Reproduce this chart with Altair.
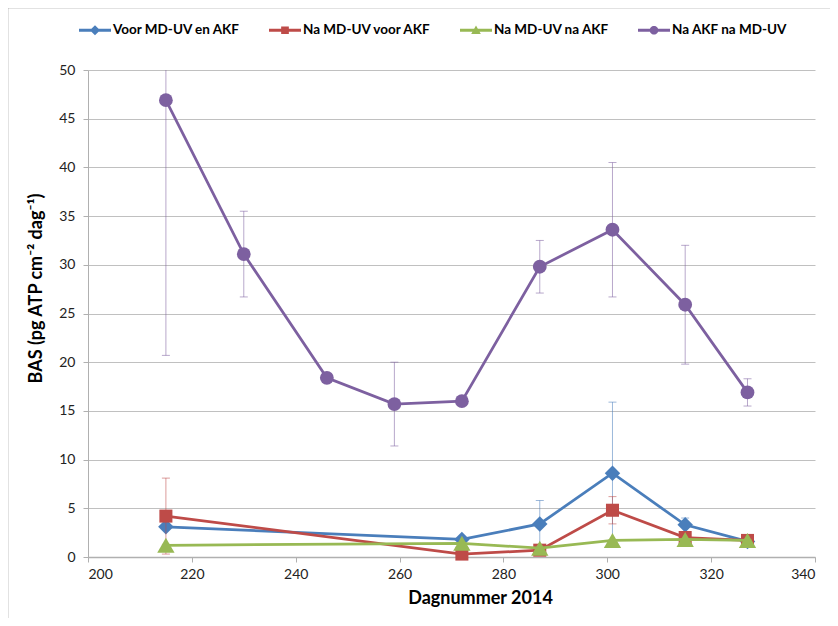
import math
import altair as alt
import pandas as pd

# ---------------- data ----------------
series_names = ["Voor MD-UV en AKF", "Na MD-UV voor AKF", "Na MD-UV na AKF", "Na AKF na MD-UV"]
series_colors = ["#4a7ebb", "#be4b48", "#98b954", "#7d60a0"]
series_shapes = ["diamond", "square", "triangle-up", "circle"]
series_sizes = [240, 170, 300, 190]

days_short = [215, 272, 287, 301, 315, 327]
days_long = [215, 230, 246, 259, 272, 287, 301, 315, 327]

blue_vals = [3.1, 1.8, 3.4, 8.6, 3.3, 1.6]
blue_err = [0.2, 0.2, 2.4, 7.3, 0.7, 0.2]
red_vals = [4.2, 0.3, 0.7, 4.8, 2.0, 1.7]
red_err = [3.9, 0.2, 0.3, 1.4, 0.5, 0.2]
green_vals = [1.2, 1.4, 0.9, 1.7, 1.8, 1.7]
green_err = [0.1, 0.1, 0.1, 0.1, 0.1, 0.1]
purple_vals = [46.9, 31.1, 18.4, 15.7, 16.0, 29.8, 33.6, 25.9, 16.9]
purple_err = [26.2, 4.4, 0.4, 4.3, 0.4, 2.7, 6.9, 6.1, 1.4]

x_ticks = [200, 220, 240, 260, 280, 300, 320, 340]
y_ticks = [0, 5, 10, 15, 20, 25, 30, 35, 40, 45, 50]

all_days = [days_short, days_short, days_short, days_long]
all_vals = [blue_vals, red_vals, green_vals, purple_vals]
all_errs = [blue_err, red_err, green_err, purple_err]

frames = []
for name, d, v, e in zip(series_names, all_days, all_vals, all_errs):
    frames.append(pd.DataFrame({
        "series": name, "day": d, "value": v,
        "lo": [a - b for a, b in zip(v, e)],
        "hi": [a + b for a, b in zip(v, e)],
    }))
df = pd.concat(frames, ignore_index=True)

FONT = "Lato"
W, H = 727, 487

x_scale = alt.Scale(domain=[200, 340], nice=False, zero=False)
y_scale = alt.Scale(domain=[0, 50], nice=False)

x_axis = alt.Axis(values=x_ticks, title="Dagnummer 2014", grid=False,
                  domainColor="#b0b0b0", domainWidth=1.5, tickColor="#b0b0b0", tickSize=5,
                  labelFont=FONT, labelFontSize=14, labelColor="#222222", labelPadding=5,
                  titleFont=FONT, titleFontSize=18, titleFontWeight="bold", titleColor="#000000",
                  titlePadding=8, titleX=392, titleAlign="center")
y_axis = alt.Axis(values=y_ticks, title="BAS (pg ATP cm⁻² dag⁻¹)", grid=True,
                  gridColor="#c0c0c0", gridWidth=1,
                  domainColor="#b0b0b0", domainWidth=1, tickColor="#b0b0b0", tickSize=5,
                  labelFont=FONT, labelFontSize=14, labelColor="#222222", labelPadding=8,
                  titleFont=FONT, titleFontSize=18, titleFontWeight="bold", titleColor="#000000",
                  titleAngle=270, titleX=-52, titleY=218, titleAlign="center",
                  titleBaseline="middle")

base = alt.Chart(df)

# frame around the whole chart (decoration)
frame = alt.Chart(pd.DataFrame({"a": [0]})).mark_rect(
    fill=None, stroke="#8c8c8c", strokeWidth=1.5, clip=False
).encode(x=alt.value(-80.5), x2=alt.value(W + 200), y=alt.value(-62.5), y2=alt.value(H + 200))

layers = [frame]

# axes holder (first layer carries the axes)
axes_layer = base.mark_point(opacity=0).encode(
    x=alt.X("day:Q", scale=x_scale, axis=x_axis),
    y=alt.Y("value:Q", scale=y_scale, axis=y_axis),
)
layers.append(axes_layer)

for name, col, shp, sz in zip(series_names, series_colors, series_shapes, series_sizes):
    sub = base.transform_filter(alt.datum.series == name)
    err = sub.mark_rule(color=col, opacity=0.55, strokeWidth=1, clip=True).encode(
        x="day:Q", y="lo:Q", y2="hi:Q")
    cap_hi = sub.mark_tick(color=col, opacity=0.55, thickness=1, size=8,
                           orient="horizontal", clip=True).encode(x="day:Q", y="hi:Q")
    cap_lo = sub.mark_tick(color=col, opacity=0.55, thickness=1, size=8,
                           orient="horizontal", clip=True).encode(x="day:Q", y="lo:Q")
    line = sub.mark_line(color=col, strokeWidth=2.75).encode(
        x="day:Q", y="value:Q", order="day:Q")
    pts = sub.mark_point(color=col, filled=True, opacity=1, shape=shp, size=sz).encode(
        x="day:Q", y="value:Q")
    layers += [err, cap_hi, cap_lo, line, pts]


# legend symbols: line + marker
def poly(pts):
    return "M" + "L".join(f"{px:.3f},{py:.3f}" for px, py in pts) + "Z"

bar = poly([(-1, -0.09), (1, -0.09), (1, 0.09), (-1, 0.09)])
diamond = poly([(0, -0.32), (0.32, 0), (0, 0.32), (-0.32, 0)])
square = poly([(-0.24, -0.24), (0.24, -0.24), (0.24, 0.24), (-0.24, 0.24)])
tri = poly([(0, -0.3), (0.3, 0.24), (-0.3, 0.24)])
circ = poly([(0.27 * math.cos(2 * math.pi * k / 24), 0.27 * math.sin(2 * math.pi * k / 24)) for k in range(24)])
legend_paths = [bar + diamond, bar + square, bar + tri, bar + circ]

# legend-only layer: no rows drawn, entries come from the explicit scale domain
legend_layer = base.transform_filter("false").mark_point(filled=True, opacity=1).encode(
    x="day:Q", y="value:Q",
    color=alt.Color("series:N", scale=alt.Scale(domain=series_names, range=series_colors),
                    legend=alt.Legend(orient="none", direction="horizontal", legendX=-9, legendY=-56,
                                      title=None, symbolSize=1024, symbolOpacity=1,
                                      symbolStrokeWidth=0, labelFont=FONT, labelFontSize=13.5,
                                      labelFontWeight="bold", labelColor="#000000",
                                      labelOffset=2, columnPadding=28, labelLimit=300)),
    shape=alt.Shape("series:N", scale=alt.Scale(domain=series_names, range=legend_paths)),
)
layers.append(legend_layer)

chart = alt.layer(*layers).properties(
    width=W, height=H,
    autosize=alt.AutoSizeParams(type="none"),
    padding={"left": 80, "top": 62, "right": 15, "bottom": 61},
    background="white",
).configure_view(stroke=None)

chart.save("out.html", embed_options={"renderer": "svg", "actions": False})
